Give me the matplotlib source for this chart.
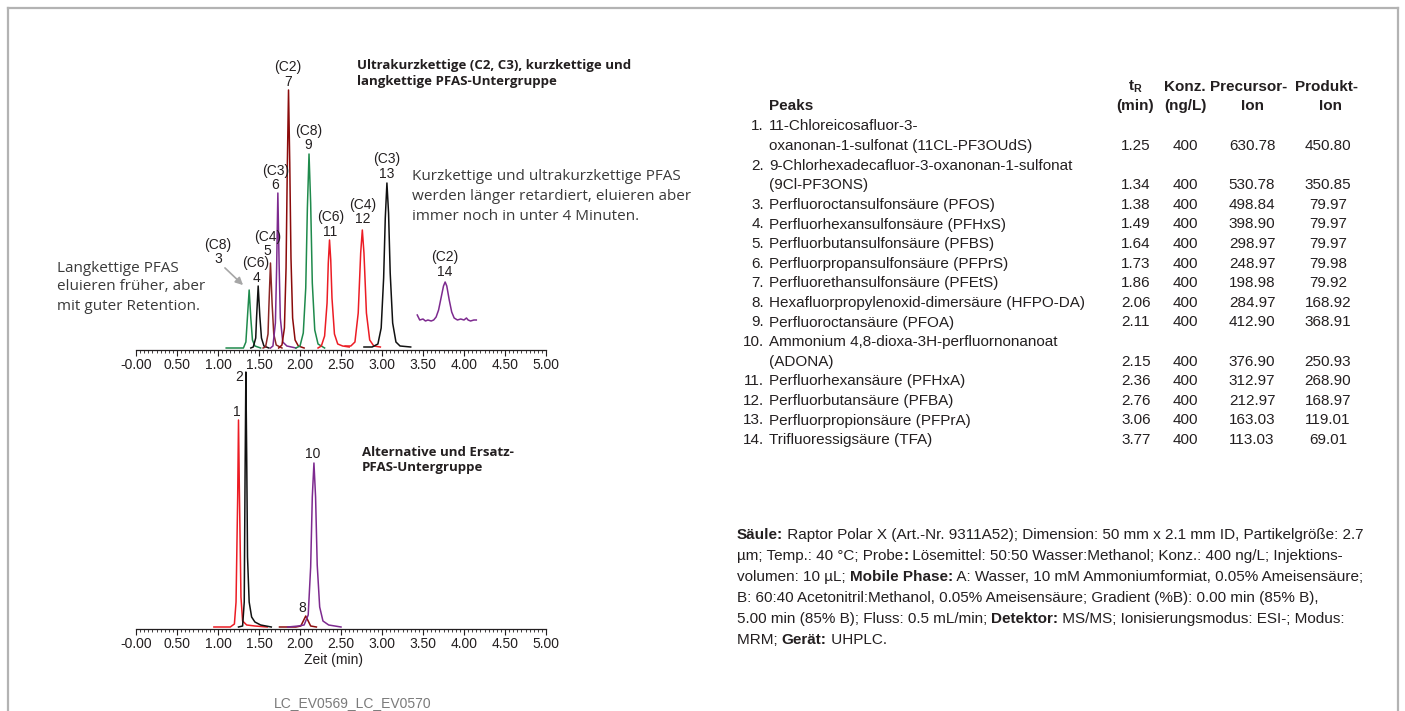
import matplotlib
matplotlib.use('Agg')
import matplotlib.pyplot as plt
from matplotlib.lines import Line2D
from matplotlib.ticker import MultipleLocator, FuncFormatter

W, H = 1405, 711
COND = ['Liberation Sans', 'DejaVu Sans']
BODY = ['Open Sans', 'DejaVu Sans']
INK = '#231f20'

GREEN = '#1f8a4c'
BLACK = '#111111'
BROWN = '#8b2626'
MAROON = '#8b0b0b'
PURPLE = '#7d2a8f'
RED = '#ec1c24'

# --- obere Gruppe: Retentionszeit (min) / Intensitaet (rel.) ---
p3_t = [1.10, 1.31, 1.34, 1.36, 1.38, 1.40, 1.42, 1.45, 1.52]
p3_y = [0, 0, 6, 32, 58, 30, 8, 2, 0]
p4_t = [1.40, 1.43, 1.46, 1.47, 1.49, 1.51, 1.53, 1.56, 1.62]
p4_y = [0, 1, 10, 30, 62, 32, 10, 2, 0]
p5_t = [1.55, 1.58, 1.61, 1.62, 1.64, 1.66, 1.68, 1.71, 1.78]
p5_y = [0, 1, 14, 40, 85, 44, 14, 3, 0]
p6_t = [1.64, 1.67, 1.70, 1.715, 1.73, 1.745, 1.76, 1.79, 1.84, 1.95]
p6_y = [0, 2, 25, 80, 155, 85, 30, 6, 2, 0]
p7_t = [1.74, 1.78, 1.81, 1.83, 1.845, 1.86, 1.875, 1.89, 1.91, 1.94, 1.98, 2.05]
p7_y = [0, 3, 20, 80, 180, 258, 185, 90, 30, 8, 2, 0]
p9_t = [1.95, 2.00, 2.04, 2.07, 2.09, 2.11, 2.13, 2.15, 2.18, 2.22, 2.30]
p9_y = [0, 2, 15, 60, 140, 194, 145, 65, 18, 4, 0]
p11_t = [2.22, 2.26, 2.30, 2.33, 2.345, 2.36, 2.375, 2.39, 2.42, 2.46, 2.52, 2.60]
p11_y = [0, 2, 12, 45, 85, 108, 88, 50, 14, 4, 2, 1]
p12_t = [2.55, 2.62, 2.67, 2.71, 2.74, 2.76, 2.78, 2.81, 2.85, 2.90, 2.98]
p12_y = [2, 2, 6, 35, 95, 118, 95, 35, 8, 2, 1]
p13_t = [2.78, 2.88, 2.95, 2.99, 3.02, 3.04, 3.06, 3.08, 3.10, 3.13, 3.17, 3.22, 3.35]
p13_y = [1, 1, 4, 20, 70, 130, 165, 135, 75, 25, 6, 2, 1]
p14_t = [3.43, 3.46, 3.50, 3.53, 3.56, 3.60, 3.63, 3.66, 3.69, 3.72, 3.75, 3.77,
         3.79, 3.82, 3.85, 3.88, 3.92, 3.96, 4.00, 4.03, 4.05, 4.08, 4.12, 4.15]
p14_y = [33, 28, 29, 27, 28, 27, 28, 31, 38, 50, 62, 66,
         62, 48, 36, 30, 28, 29, 28, 30, 28, 27, 28, 28]

# --- untere Gruppe ---
p1_t = [0.95, 1.15, 1.20, 1.22, 1.24, 1.25, 1.26, 1.28, 1.30, 1.35, 1.45, 1.60]
p1_y = [0, 0, 3, 25, 130, 207, 140, 30, 6, 2, 1, 0]
p2_t = [1.25, 1.30, 1.32, 1.33, 1.34, 1.35, 1.36, 1.38, 1.41, 1.45, 1.52, 1.65]
p2_y = [0, 1, 25, 150, 255, 170, 70, 25, 10, 5, 2, 0]
p8_t = [1.75, 1.95, 2.01, 2.04, 2.07, 2.10, 2.13, 2.20]
p8_y = [0, 0, 1, 6, 11, 6, 1, 0]
p10_t = [1.85, 1.98, 2.05, 2.10, 2.13, 2.15, 2.17, 2.19, 2.21, 2.24, 2.28, 2.35, 2.50]
p10_y = [0, 1, 2, 12, 60, 130, 164, 130, 62, 20, 6, 2, 0]

# Peak-Beschriftungen: (Kettenlaenge, Nummer, x-Position, y-Position)
top_labels = [('(C8)', '3', 1.00, 89), ('(C6)', '4', 1.465, 70), ('(C4)', '5', 1.60, 97),
              ('(C3)', '6', 1.70, 163), ('(C2)', '7', 1.85, 266), ('(C8)', '9', 2.10, 203),
              ('(C6)', '11', 2.37, 116), ('(C4)', '12', 2.76, 129), ('(C3)', '13', 3.06, 174),
              ('(C2)', '14', 3.77, 76)]
bottom_labels = [('1', 1.235, 215), ('2', 1.26, 250), ('10', 2.16, 173), ('8', 2.03, 19)]

# Tabelle
peak_names = [
    ['1.', '11-Chloreicosafluor-3-', 'oxanonan-1-sulfonat (11CL-PF3OUdS)'],
    ['2.', '9-Chlorhexadecafluor-3-oxanonan-1-sulfonat', '(9Cl-PF3ONS)'],
    ['3.', 'Perfluoroctansulfonsäure (PFOS)'],
    ['4.', 'Perfluorhexansulfonsäure (PFHxS)'],
    ['5.', 'Perfluorbutansulfonsäure (PFBS)'],
    ['6.', 'Perfluorpropansulfonsäure (PFPrS)'],
    ['7.', 'Perfluorethansulfonsäure (PFEtS)'],
    ['8.', 'Hexafluorpropylenoxid-dimersäure (HFPO-DA)'],
    ['9.', 'Perfluoroctansäure (PFOA)'],
    ['10.', 'Ammonium 4,8-dioxa-3H-perfluornonanoat', '(ADONA)'],
    ['11.', 'Perfluorhexansäure (PFHxA)'],
    ['12.', 'Perfluorbutansäure (PFBA)'],
    ['13.', 'Perfluorpropionsäure (PFPrA)'],
    ['14.', 'Trifluoressigsäure (TFA)'],
]
t_r = ['1.25', '1.34', '1.38', '1.49', '1.64', '1.73', '1.86', '2.06', '2.11', '2.15',
       '2.36', '2.76', '3.06', '3.77']
konz = ['400'] * 14
precursor = ['630.78', '530.78', '498.84', '398.90', '298.97', '248.97', '198.98', '284.97',
             '412.90', '376.90', '312.97', '212.97', '163.03', '113.03']
produkt = ['450.80', '350.85', '79.97', '79.97', '79.97', '79.98', '79.92', '168.92',
           '368.91', '250.93', '268.90', '168.97', '119.01', '69.01']

conditions = [
    [('Säule:', True), (' Raptor Polar X (Art.-Nr. 9311A52); Dimension: 50 mm x 2.1 mm ID, Partikelgröße: 2.7', False)],
    [('µm; Temp.: 40 °C; Probe', False), (':', True), (' Lösemittel: 50:50 Wasser:Methanol; Konz.: 400 ng/L; Injektions-', False)],
    [('volumen: 10 µL; ', False), ('Mobile Phase:', True), (' A: Wasser, 10 mM Ammoniumformiat, 0.05% Ameisensäure;', False)],
    [('B: 60:40 Acetonitril:Methanol, 0.05% Ameisensäure; Gradient (%B): 0.00 min (85% B),', False)],
    [('5.00 min (85% B); Fluss: 0.5 mL/min; ', False), ('Detektor:', True), (' MS/MS; Ionisierungsmodus: ESI-; Modus:', False)],
    [('MRM; ', False), ('Gerät:', True), (' UHPLC.', False)],
]


def fx(x):
    return x / W


def fy(y):
    return 1 - y / H


def style_axis(ax):
    ax.set_xlim(0, 5)
    for s in ('left', 'right', 'top'):
        ax.spines[s].set_visible(False)
    ax.spines['bottom'].set_color(INK)
    ax.spines['bottom'].set_linewidth(0.9)
    ax.set_yticks([])
    ax.xaxis.set_major_locator(MultipleLocator(0.5))
    ax.xaxis.set_minor_locator(MultipleLocator(0.05))
    ax.xaxis.set_major_formatter(FuncFormatter(lambda v, p: '-0.00' if abs(v) < 1e-9 else f'{v:.2f}'))
    ax.tick_params(axis='x', which='major', length=4, width=0.8, color=INK, pad=2,
                   labelsize=10, labelcolor=INK)
    ax.tick_params(axis='x', which='minor', length=2.5, width=0.6, color=INK)
    for lab in ax.get_xticklabels():
        lab.set_family(COND)
    ax.patch.set_alpha(0)


fig = plt.figure(figsize=(W / 100, H / 100), dpi=100)

# Rahmen
for xs, ys in [([7.5, 7.5], [711, 7.5]), ([7.5, 1398], [7.5, 7.5]), ([1398, 1398], [7.5, 711])]:
    fig.add_artist(Line2D([fx(x) for x in xs], [fy(y) for y in ys], color='#b3b3b3', lw=1.6))

# obere Chromatogramme
ax1 = fig.add_axes([fx(136), fy(349.5), (546 - 136) / W, (349.5 - 60) / H])
ax1.set_ylim(-1.5, 288)
style_axis(ax1)
for t, y, c in [(p3_t, p3_y, GREEN), (p4_t, p4_y, BLACK), (p5_t, p5_y, BROWN),
                (p6_t, p6_y, PURPLE), (p7_t, p7_y, MAROON), (p9_t, p9_y, GREEN),
                (p11_t, p11_y, RED), (p12_t, p12_y, RED), (p13_t, p13_y, BLACK),
                (p14_t, p14_y, PURPLE)]:
    ax1.plot(t, y, color=c, lw=1.1, clip_on=False)
for chain, num, xl, yl in top_labels:
    ax1.text(xl, yl, num, ha='center', va='center', fontsize=10, family=COND, color=INK)
    ax1.text(xl, yl + 14.5, chain, ha='center', va='center', fontsize=10, family=COND, color=INK)
ax1.annotate('', xy=(1.33, 61), xytext=(1.06, 82),
             arrowprops=dict(arrowstyle='-|>', color='#a6a6a6', lw=1.2, mutation_scale=11))

# untere Chromatogramme
ax2 = fig.add_axes([fx(136), fy(628.5), (546 - 136) / W, (628.5 - 366) / H])
ax2.set_ylim(-1.5, 261)
style_axis(ax2)
for t, y, c in [(p1_t, p1_y, RED), (p2_t, p2_y, BLACK), (p8_t, p8_y, MAROON),
                (p10_t, p10_y, PURPLE)]:
    ax2.plot(t, y, color=c, lw=1.1, clip_on=False)
for num, xl, yl in bottom_labels:
    ax2.text(xl, yl, num, ha='center', va='center', fontsize=10, family=COND, color=INK)

# Beschriftungen
fig.text(fx(357), fy(66), 'Ultrakurzkettige (C2, C3), kurzkettige und', fontsize=9.5,
         family=BODY, weight='bold', color=INK, va='center')
fig.text(fx(357), fy(82), 'langkettige PFAS-Untergruppe', fontsize=9.5,
         family=BODY, weight='bold', color=INK, va='center')
fig.text(fx(362), fy(453), 'Alternative und Ersatz-', fontsize=9.5,
         family=BODY, weight='bold', color=INK, va='center')
fig.text(fx(362), fy(468), 'PFAS-Untergruppe', fontsize=9.5,
         family=BODY, weight='bold', color=INK, va='center')
for i, s in enumerate(['Kurzkettige und ultrakurzkettige PFAS',
                       'werden länger retardiert, eluieren aber',
                       'immer noch in unter 4 Minuten.']):
    fig.text(fx(412), fy(177 + 20 * i), s, fontsize=11, family=BODY, color='#3a3a3a', va='center')
for i, s in enumerate(['Langkettige PFAS', 'eluieren früher, aber', 'mit guter Retention.']):
    fig.text(fx(57), fy(268 + 19 * i), s, fontsize=11, family=BODY, color='#3a3a3a', va='center')
fig.text(fx(333), fy(660), 'Zeit (min)', fontsize=10, family=COND, color=INK, ha='center', va='center')
fig.text(fx(353), fy(703), 'LC_EV0569_LC_EV0570', fontsize=10, family=COND, color='#7a7a7a',
         ha='center', va='center')

# Tabelle
TS = 11
hdr = dict(fontsize=TS, family=COND, weight='bold', color=INK, va='center', ha='center')
fig.text(fx(1135), fy(87), r't$_\mathregular{R}$', **hdr)
fig.text(fx(1135), fy(106), '(min)', **hdr)
fig.text(fx(1185), fy(87), 'Konz.', **hdr)
fig.text(fx(1185), fy(106), '(ng/L)', **hdr)
fig.text(fx(1249), fy(87), 'Precursor-', **hdr)
fig.text(fx(1252), fy(106), 'Ion', **hdr)
fig.text(fx(1326), fy(87), 'Produkt-', **hdr)
fig.text(fx(1331), fy(106), 'Ion', **hdr)
fig.text(fx(769), fy(106), 'Peaks', fontsize=TS, family=COND, weight='bold', color=INK, va='center')

row = 0
ROW0, DY = 126.5, 19.6
body = dict(fontsize=TS, family=COND, color=INK, va='center')
for i, entry in enumerate(peak_names):
    y0 = ROW0 + DY * row
    fig.text(fx(764), fy(y0), entry[0], ha='right', **body)
    for k, part in enumerate(entry[1:]):
        fig.text(fx(769), fy(y0 + DY * k), part, ha='left', **body)
    yv = y0 + DY * (len(entry) - 2)
    fig.text(fx(1136), fy(yv), t_r[i], ha='center', **body)
    fig.text(fx(1185), fy(yv), konz[i], ha='center', **body)
    fig.text(fx(1252), fy(yv), precursor[i], ha='center', **body)
    fig.text(fx(1328), fy(yv), produkt[i], ha='center', **body)
    row += len(entry) - 1

# Bedingungen (gemischt fett/normal)
renderer = fig.canvas.get_renderer()
for j, segs in enumerate(conditions):
    x = fx(737)
    yy = fy(535 + 21 * j)
    for txt, bold in segs:
        t = fig.text(x, yy, txt, fontsize=TS, family=COND, color=INK, va='center',
                     weight='bold' if bold else 'normal')
        bb = t.get_window_extent(renderer)
        x = bb.x1 / fig.bbox.width

fig.savefig('out.png', dpi=100)
